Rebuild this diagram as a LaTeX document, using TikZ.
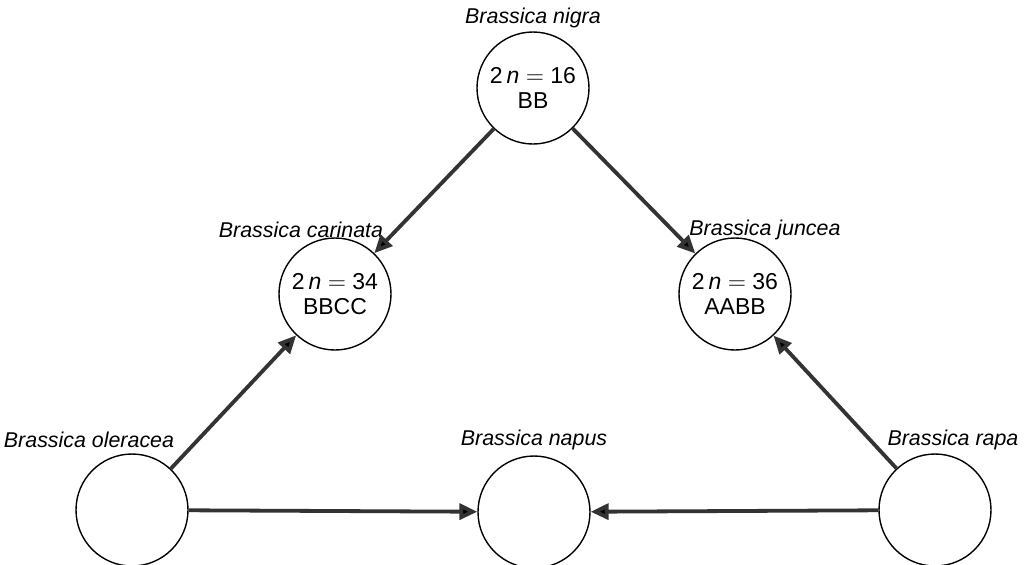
\documentclass[tikz,border=0pt]{standalone}
\usepackage{fontspec}
\setmainfont{Liberation Sans}
\usepackage{tikz}
\usetikzlibrary{arrows.meta,positioning}

\begin{document}
\begin{tikzpicture}[x=0.5pt,y=-0.5pt,font=\fontsize{11.5}{12.5}\selectfont]
  \tikzstyle{genome}=[circle,draw,line width=0.7pt,minimum size=56pt,inner sep=0pt,align=center]
  \tikzstyle{species}=[font=\fontsize{10.7}{12}\selectfont\itshape,inner sep=0pt]
  \tikzstyle{cross}=[line width=1.9pt,draw={rgb:black,4;white,1},-{Triangle[length=9pt,width=8pt]}]
  \useasboundingbox (0,0) rectangle (1028,564);

  \node[genome]  (nigra)    at (533,88)  {2\,\textit{n}\;$=$\;16\\BB};
  \node[genome]  (carinata) at (335,294) {2\,\textit{n}\;$=$\;34\\BBCC};
  \node[genome]  (juncea)   at (735,294) {2\,\textit{n}\;$=$\;36\\AABB};
  \node[genome]  (oleracea) at (132,510) {};
  \node[genome]  (napus)    at (534,512) {};
  \node[genome]  (rapa)     at (935,510) {};

  \node[species] (l_nigra)    at (533,18)  {Brassica nigra};
  \node[species] (l_carinata) at (301,230) {Brassica carinata};
  \node[species] (l_juncea)   at (765,230) {Brassica juncea};
  \node[species] (l_oleracea) at (89,440)  {Brassica oleracea};
  \node[species] (l_napus)    at (534,440) {Brassica napus};
  \node[species] (l_rapa)     at (953,440) {Brassica rapa};

  \path[cross]
  (nigra)    edge (carinata)
             edge (juncea)
  (oleracea) edge (carinata)
             edge (napus)
  (rapa)     edge (juncea)
             edge (napus);
\end{tikzpicture}
\end{document}
